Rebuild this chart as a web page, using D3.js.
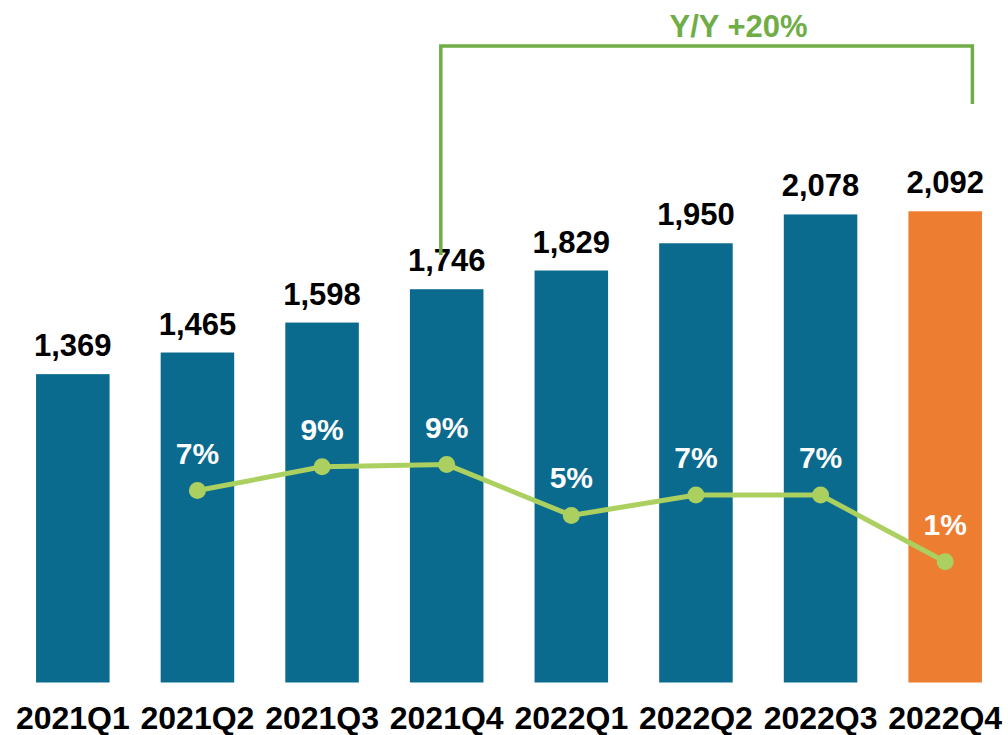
<!DOCTYPE html>
<html lang="en">
<head>
<meta charset="utf-8">
<title>Quarterly revenue</title>
<script src="https://cdn.jsdelivr.net/npm/d3@7"></script>
<style>
  body { margin: 0; background: #fff; }
  text { font-family: "Liberation Sans", Arial, sans-serif; font-weight: bold; }
</style>
</head>
<body>
<script>
// data
var quarters = ["2021Q1", "2021Q2", "2021Q3", "2021Q4", "2022Q1", "2022Q2", "2022Q3", "2022Q4"];
var revenue = [1369, 1465, 1598, 1746, 1829, 1950, 2078, 2092];
var growth = [null, 7.0, 9.1, 9.3, 4.8, 6.6, 6.6, 0.7];
var growthLabels = ["", "7%", "9%", "9%", "5%", "7%", "7%", "1%"];
var yoyLabel = "Y/Y +20%";

var w = 1008, h = 735;

var svg = d3.select("body").append("svg")
  .attr("width", w)
  .attr("height", h);

// scales
var x = d3.scaleBand()
  .domain(quarters)
  .range([10.5, 1007.5])
  .paddingInner(0.41)
  .paddingOuter(0.205);

var y = d3.scaleLinear()
  .domain([0, 3030])
  .range([682.5, 0]);

var yPct = d3.scaleLinear()
  .domain([0, 10])
  .range([569.6, 456.7]);

// bars
svg.append("g").selectAll("rect")
  .data(quarters)
  .enter()
  .append("rect")
  .attr("x", function(d) { return x(d); })
  .attr("y", function(d, i) { return y(revenue[i]); })
  .attr("width", x.bandwidth())
  .attr("height", function(d, i) { return y(0) - y(revenue[i]); })
  .attr("fill", function(d, i) { return i === quarters.length - 1 ? "#ed7d31" : "#0b6b8f"; });

// value labels
svg.append("g").selectAll("text")
  .data(quarters)
  .enter()
  .append("text")
  .attr("x", function(d) { return x(d) + x.bandwidth() / 2; })
  .attr("y", function(d, i) { return y(revenue[i]) - 18; })
  .attr("text-anchor", "middle")
  .attr("font-size", 31)
  .attr("fill", "#000")
  .text(function(d, i) { return d3.format(",")(revenue[i]); });

// x axis labels
var xAxis = d3.axisBottom(x).tickSize(0).tickPadding(0);
var gx = svg.append("g")
  .attr("transform", "translate(0," + 700 + ")")
  .call(xAxis);
gx.select(".domain").remove();
gx.selectAll("text")
  .attr("font-size", 32)
  .attr("fill", "#000")
  .attr("dy", null)
  .attr("y", 29)
  .style("font-family", "'Liberation Sans', Arial, sans-serif")
  .style("font-weight", "bold");

// growth line
var pts = quarters.map(function(q, i) { return { q: q, v: growth[i], l: growthLabels[i] }; })
  .filter(function(d) { return d.v !== null; });

var line = d3.line()
  .x(function(d) { return x(d.q) + x.bandwidth() / 2; })
  .y(function(d) { return yPct(d.v); })
  .curve(d3.curveLinear);

svg.append("path")
  .datum(pts)
  .attr("d", line)
  .attr("fill", "none")
  .attr("stroke", "#acd05f")
  .attr("stroke-width", 5);

svg.append("g").selectAll("circle")
  .data(pts)
  .enter()
  .append("circle")
  .attr("cx", function(d) { return x(d.q) + x.bandwidth() / 2; })
  .attr("cy", function(d) { return yPct(d.v); })
  .attr("r", 8.5)
  .attr("fill", "#acd05f");

svg.append("g").selectAll("text")
  .data(pts)
  .enter()
  .append("text")
  .attr("x", function(d) { return x(d.q) + x.bandwidth() / 2; })
  .attr("y", function(d) { return yPct(d.v) - 27; })
  .attr("text-anchor", "middle")
  .attr("font-size", 30)
  .attr("fill", "#fff")
  .text(function(d) { return d.l; });

// Y/Y bracket
var bx0 = x("2021Q4") + x.bandwidth() * 0.42;
var bx1 = x("2022Q4") + x.bandwidth() * 0.87;
svg.append("path")
  .attr("d", "M" + bx0 + ",255 V46 H" + bx1 + " V104")
  .attr("fill", "none")
  .attr("stroke", "#70ad47")
  .attr("stroke-width", 3.5);

svg.append("text")
  .attr("x", (bx0 + bx1) / 2 + 32)
  .attr("y", 37)
  .attr("text-anchor", "middle")
  .attr("font-size", 31)
  .attr("fill", "#70ad47")
  .text(yoyLabel);
</script>
</body>
</html>
